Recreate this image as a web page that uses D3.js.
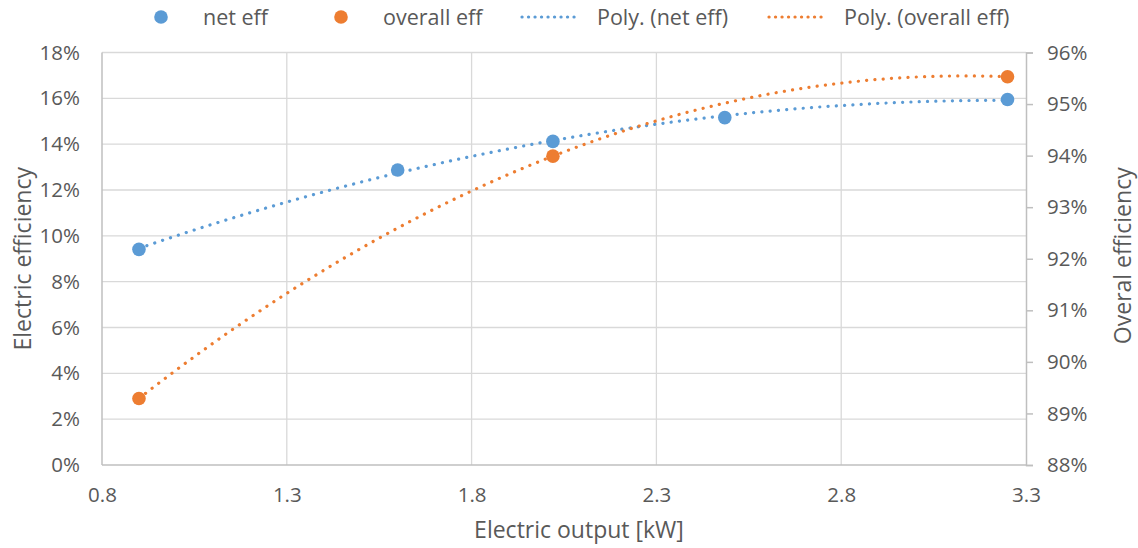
<!DOCTYPE html>
<html>
<head>
<meta charset="utf-8">
<script src="https://cdn.jsdelivr.net/npm/d3@7"></script>
<style>
  html, body { margin: 0; padding: 0; background: #fff; }
  svg { display: block; font-family: "Open Sans", "Liberation Sans", sans-serif; }
</style>
</head>
<body>
<svg id="chart" width="1138" height="548"></svg>
<script>
// Measured operating points
const netOutput = [0.9, 1.6, 2.02, 2.485, 3.25];          // kW
const netEff = [0.0941, 0.1287, 0.1412, 0.1516, 0.1595];   // electric efficiency
const overallOutput = [0.9, 2.02, 3.25];                   // kW
const overallEff = [0.8929, 0.9399, 0.9553];               // overall efficiency

const xTicks = [0.8, 1.3, 1.8, 2.3, 2.8, 3.3];
const leftTicks = [0, 0.02, 0.04, 0.06, 0.08, 0.10, 0.12, 0.14, 0.16, 0.18];
const rightTicks = [0.88, 0.89, 0.90, 0.91, 0.92, 0.93, 0.94, 0.95, 0.96];

const legendLabels = ["net eff", "overall eff", "Poly. (net eff)", "Poly. (overall eff)"];

const BLUE = "#5B9BD5", ORANGE = "#ED7D31", TEXT = "#595959";
const GRID = "#D9D9D9", AXIS = "#BFBFBF";

const svg = d3.select("#chart");
const plot = { left: 102, right: 1026, top: 52.5, bottom: 465 };

const x = d3.scaleLinear().domain([0.8, 3.3]).range([plot.left, plot.right]);
const yL = d3.scaleLinear().domain([0, 0.18]).range([plot.bottom, plot.top]);
const yR = d3.scaleLinear().domain([0.88, 0.96]).range([plot.bottom, plot.top]);

// Least-squares polynomial (order 2) trendline
function polyFit(xs, ys, order) {
  const n = order + 1;
  const A = Array.from({ length: n }, () => new Array(n + 1).fill(0));
  for (let i = 0; i < xs.length; i++) {
    for (let r = 0; r < n; r++) {
      for (let c = 0; c < n; c++) A[r][c] += Math.pow(xs[i], r + c);
      A[r][n] += ys[i] * Math.pow(xs[i], r);
    }
  }
  for (let p = 0; p < n; p++) {
    let max = p;
    for (let r = p + 1; r < n; r++) if (Math.abs(A[r][p]) > Math.abs(A[max][p])) max = r;
    [A[p], A[max]] = [A[max], A[p]];
    for (let r = p + 1; r < n; r++) {
      const f = A[r][p] / A[p][p];
      for (let c = p; c <= n; c++) A[r][c] -= f * A[p][c];
    }
  }
  const coef = new Array(n).fill(0);
  for (let r = n - 1; r >= 0; r--) {
    let s = A[r][n];
    for (let c = r + 1; c < n; c++) s -= A[r][c] * coef[c];
    coef[r] = s / A[r][r];
  }
  return v => coef.reduce((acc, k, i) => acc + k * Math.pow(v, i), 0);
}

function trendPoints(xs, ys) {
  const f = polyFit(xs, ys, 2);
  const [lo, hi] = d3.extent(xs);
  return d3.range(0, 201).map(i => {
    const v = lo + (hi - lo) * i / 200;
    return [v, f(v)];
  });
}

// Gridlines
const grid = svg.append("g");
grid.selectAll("line.h").data(leftTicks.slice(1)).join("line")
  .attr("x1", plot.left).attr("x2", plot.right)
  .attr("y1", d => yL(d)).attr("y2", d => yL(d))
  .attr("stroke", GRID).attr("stroke-width", 1.3);
grid.selectAll("line.v").data(xTicks.slice(1, -1)).join("line")
  .attr("y1", plot.top).attr("y2", plot.bottom)
  .attr("x1", d => x(d)).attr("x2", d => x(d))
  .attr("stroke", GRID).attr("stroke-width", 1.3);

// Axes
const xAxis = svg.append("g").attr("transform", `translate(0,${plot.bottom})`)
  .call(d3.axisBottom(x).tickValues(xTicks).tickFormat(d3.format(".1f")).tickSize(0).tickPadding(22));
const leftAxis = svg.append("g").attr("transform", `translate(${plot.left},0)`)
  .call(d3.axisLeft(yL).tickValues(leftTicks).tickFormat(d3.format(".0%")).tickSize(0).tickPadding(22));
const rightAxis = svg.append("g").attr("transform", `translate(${plot.right},0)`)
  .call(d3.axisRight(yR).tickValues(rightTicks).tickFormat(d3.format(".0%")).tickSize(7).tickPadding(14));

[xAxis, leftAxis, rightAxis].forEach(g => {
  g.select(".domain").attr("stroke", AXIS).attr("stroke-width", 1.5);
  g.selectAll(".tick line").attr("stroke", AXIS).attr("stroke-width", 1.5);
  g.selectAll(".tick text").attr("fill", TEXT).attr("font-size", 20.5)
    .attr("font-family", "'Open Sans', sans-serif");
});
leftAxis.select(".domain").remove();
svg.append("line").attr("x1", plot.left).attr("x2", plot.left)
  .attr("y1", plot.top).attr("y2", plot.bottom)
  .attr("stroke", AXIS).attr("stroke-width", 1.5);
xAxis.select(".domain").remove();
svg.append("line").attr("x1", plot.left).attr("x2", plot.right)
  .attr("y1", plot.bottom).attr("y2", plot.bottom)
  .attr("stroke", AXIS).attr("stroke-width", 1.5);

// Axis titles
svg.append("text").attr("x", 579).attr("y", 538).attr("text-anchor", "middle")
  .attr("fill", TEXT).attr("font-size", 23).text("Electric output [kW]");
svg.append("text").attr("transform", `translate(31,${(plot.top + plot.bottom) / 2}) rotate(-90)`)
  .attr("text-anchor", "middle").attr("fill", TEXT).attr("font-size", 23).text("Electric efficiency");
svg.append("text").attr("transform", `translate(1131,${(plot.top + plot.bottom) / 2 - 3}) rotate(-90)`)
  .attr("text-anchor", "middle").attr("fill", TEXT).attr("font-size", 23).text("Overal efficiency");

// Trendlines
const lineL = d3.line().x(d => x(d[0])).y(d => yL(d[1])).curve(d3.curveLinear);
const lineR = d3.line().x(d => x(d[0])).y(d => yR(d[1])).curve(d3.curveLinear);
const dotted = { width: 3.2, dash: "0.1 8.2" };

svg.append("path").attr("d", lineL(trendPoints(netOutput, netEff)))
  .attr("fill", "none").attr("stroke", BLUE).attr("stroke-width", dotted.width)
  .attr("stroke-linecap", "round").attr("stroke-dasharray", dotted.dash);
svg.append("path").attr("d", lineR(trendPoints(overallOutput, overallEff)))
  .attr("fill", "none").attr("stroke", ORANGE).attr("stroke-width", dotted.width)
  .attr("stroke-linecap", "round").attr("stroke-dasharray", dotted.dash);

// Markers
svg.append("g").selectAll("circle").data(d3.zip(overallOutput, overallEff)).join("circle")
  .attr("cx", d => x(d[0])).attr("cy", d => yR(d[1])).attr("r", 6.8).attr("fill", ORANGE);
svg.append("g").selectAll("circle").data(d3.zip(netOutput, netEff)).join("circle")
  .attr("cx", d => x(d[0])).attr("cy", d => yL(d[1])).attr("r", 6.8).attr("fill", BLUE);

// Legend
const legendY = 17;
const legend = svg.append("g").attr("font-size", 21.5).attr("fill", TEXT);
const legendItems = [
  { type: "dot", color: BLUE, sx: 161, tx: 203 },
  { type: "dot", color: ORANGE, sx: 341, tx: 383 },
  { type: "line", color: BLUE, sx: 522, ex: 580, tx: 597 },
  { type: "line", color: ORANGE, sx: 769, ex: 827, tx: 844 }
];
legendItems.forEach((it, i) => {
  if (it.type === "dot") {
    legend.append("circle").attr("cx", it.sx).attr("cy", legendY).attr("r", 6.8).attr("fill", it.color);
  } else {
    legend.append("line").attr("x1", it.sx).attr("x2", it.ex).attr("y1", legendY).attr("y2", legendY)
      .attr("stroke", it.color).attr("stroke-width", dotted.width)
      .attr("stroke-linecap", "round").attr("stroke-dasharray", "0.1 6.4");
  }
  legend.append("text").attr("x", it.tx).attr("y", legendY).attr("dy", "0.35em")
    .attr("fill", TEXT).text(legendLabels[i]);
});
</script>
</body>
</html>
